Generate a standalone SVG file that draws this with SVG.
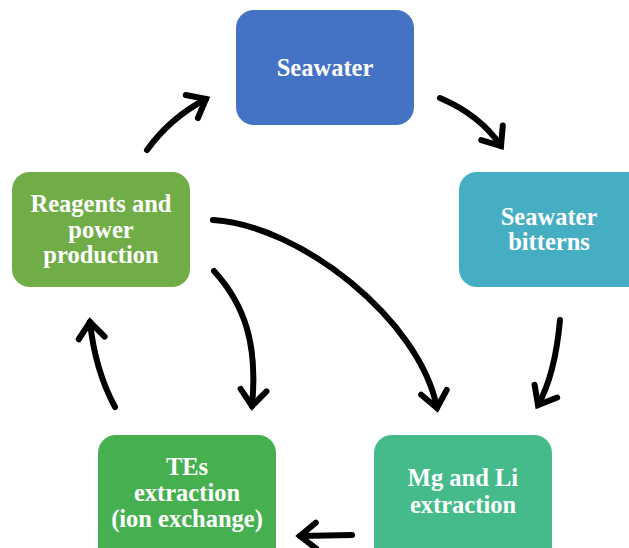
<svg xmlns="http://www.w3.org/2000/svg" width="629" height="548" viewBox="0 0 629 548">
<style>
.box{stroke:none}
.lbl{font-family:"Liberation Serif","Times New Roman",serif;font-weight:bold;font-size:24.5px;fill:#ffffff;text-anchor:middle}
.arr{fill:none;stroke:#000;stroke-width:6;stroke-linecap:round;marker-end:url(#head)}
</style>
<defs>
<marker id="head" markerUnits="userSpaceOnUse" orient="auto" markerWidth="40" markerHeight="40" refX="0" refY="0" viewBox="-20 -20 40 40" overflow="visible">
<path d="M-16,-13 L0,0 L-16,13" fill="none" stroke="#000" stroke-width="6" stroke-linecap="round" stroke-linejoin="miter"/>
</marker>
</defs>
<rect width="629" height="548" fill="#fff"/>
<g id="seawater">
<rect class="box" x="236" y="10" width="178" height="115" rx="18" fill="#4472C4"/>
<text class="lbl" x="325" y="76">Seawater</text>
</g>
<g id="bitterns">
<rect class="box" x="459" y="172" width="190" height="115" rx="18" fill="#46AEC3"/>
<text class="lbl" x="549" y="225">Seawater</text>
<text class="lbl" x="549" y="250">bitterns</text>
</g>
<g id="reagents">
<rect class="box" x="12" y="172" width="178" height="115" rx="18" fill="#70AD47"/>
<text class="lbl" x="101" y="212">Reagents and</text>
<text class="lbl" x="101" y="238">power</text>
<text class="lbl" x="101" y="263">production</text>
</g>
<g id="tes">
<rect class="box" x="98" y="435" width="178" height="130" rx="18" fill="#46B050"/>
<text class="lbl" x="187" y="475">TEs</text>
<text class="lbl" x="187" y="501">extraction</text>
<text class="lbl" x="187" y="527">(ion exchange)</text>
</g>
<g id="mgli">
<rect class="box" x="374" y="435" width="178" height="130" rx="18" fill="#45BB8C"/>
<text class="lbl" x="463" y="486">Mg and Li</text>
<text class="lbl" x="463" y="513">extraction</text>
</g>
<g id="connectors">
<path class="arr" d="M147,150 Q170,118 206,99"/>
<path class="arr" d="M440,98 Q480,115 501,146"/>
<path class="arr" d="M560,320 Q555,375 538,405"/>
<path class="arr" d="M352,535 L300,536"/>
<path class="arr" d="M115,407 Q95,370 90,322"/>
<path class="arr" d="M213,220 C300,225 420,320 437,408"/>
<path class="arr" d="M214,271 C245,305 258,345 252,406"/>
</g>
</svg>
